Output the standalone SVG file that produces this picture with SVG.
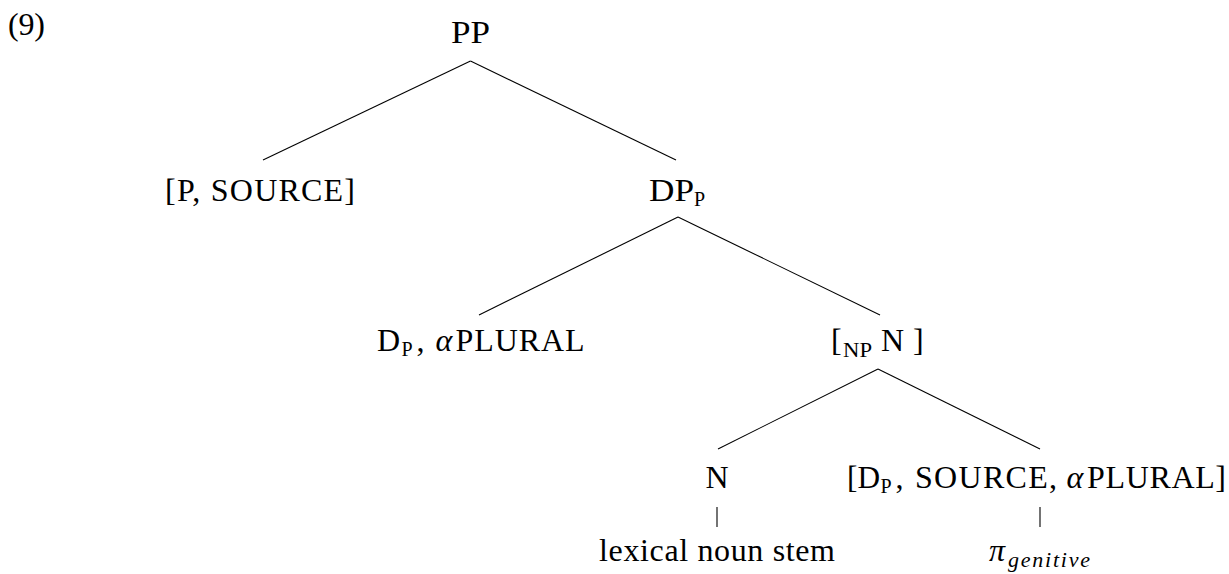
<svg xmlns="http://www.w3.org/2000/svg" width="1229" height="574" viewBox="0 0 1229 574">
<style>
.sub{font-size:20px}
.it{font-style:italic}
.sm{font-size:22px}
line{stroke:#000;stroke-width:1.1}
</style>
<rect width="1229" height="574" fill="#fff"/>
<g id="connectors">
<line x1="470.5" y1="61" x2="263" y2="160"/>
<line x1="470.5" y1="61" x2="676" y2="160"/>
<line x1="678" y1="217" x2="479" y2="315"/>
<line x1="678" y1="217" x2="880" y2="315"/>
<line x1="878" y1="369" x2="718" y2="449"/>
<line x1="878" y1="369" x2="1040" y2="449"/>
<line x1="717" y1="507" x2="717" y2="527"/>
<line x1="1040" y1="507" x2="1040" y2="527"/>
</g>
<g font-family="Liberation Serif, serif" font-size="32" fill="#000">
<g id="label-9"><text x="8" y="35" textLength="37" lengthAdjust="spacing">(9)</text></g>
<g id="node-PP"><text x="451" y="43" textLength="39" lengthAdjust="spacingAndGlyphs">PP</text></g>
<g id="node-P-source"><text x="165" y="201" textLength="190" lengthAdjust="spacing">[P, SOURCE]</text></g>
<g id="node-DPP">
<text x="649" y="201" textLength="45" lengthAdjust="spacingAndGlyphs">DP</text>
<text class="sub" x="694" y="206">P</text>
</g>
<g id="node-DP-plural">
<text x="377" y="351">D</text>
<text class="sub" x="401.5" y="356">P</text>
<text x="416.5" y="351">,</text>
<text class="it" x="435.5" y="351">α</text>
<text x="455.5" y="351" textLength="129" lengthAdjust="spacing">PLURAL</text>
</g>
<g id="node-NP">
<text x="831" y="351">[</text>
<text class="sub" x="843" y="357" textLength="29" lengthAdjust="spacingAndGlyphs">NP</text>
<text x="881" y="351">N</text>
<text x="913" y="351">]</text>
</g>
<g id="node-N"><text x="717" y="488" text-anchor="middle">N</text></g>
<g id="node-DP-source-plural">
<text x="847" y="488" textLength="33" lengthAdjust="spacingAndGlyphs">[D</text>
<text class="sub" x="880.5" y="493">P</text>
<text x="895.5" y="488">,</text>
<text x="915" y="488" textLength="142" lengthAdjust="spacing">SOURCE,</text>
<text class="it" x="1066.5" y="488">α</text>
<text x="1087" y="488" textLength="139" lengthAdjust="spacing">PLURAL]</text>
</g>
<g id="leaf-lexical"><text x="599" y="561" textLength="236" lengthAdjust="spacing">lexical noun stem</text></g>
<g id="leaf-genitive">
<text class="it" x="989" y="561">π</text>
<text class="it sm" x="1008" y="567" textLength="82" lengthAdjust="spacing">genitive</text>
</g>
</g>
</svg>
